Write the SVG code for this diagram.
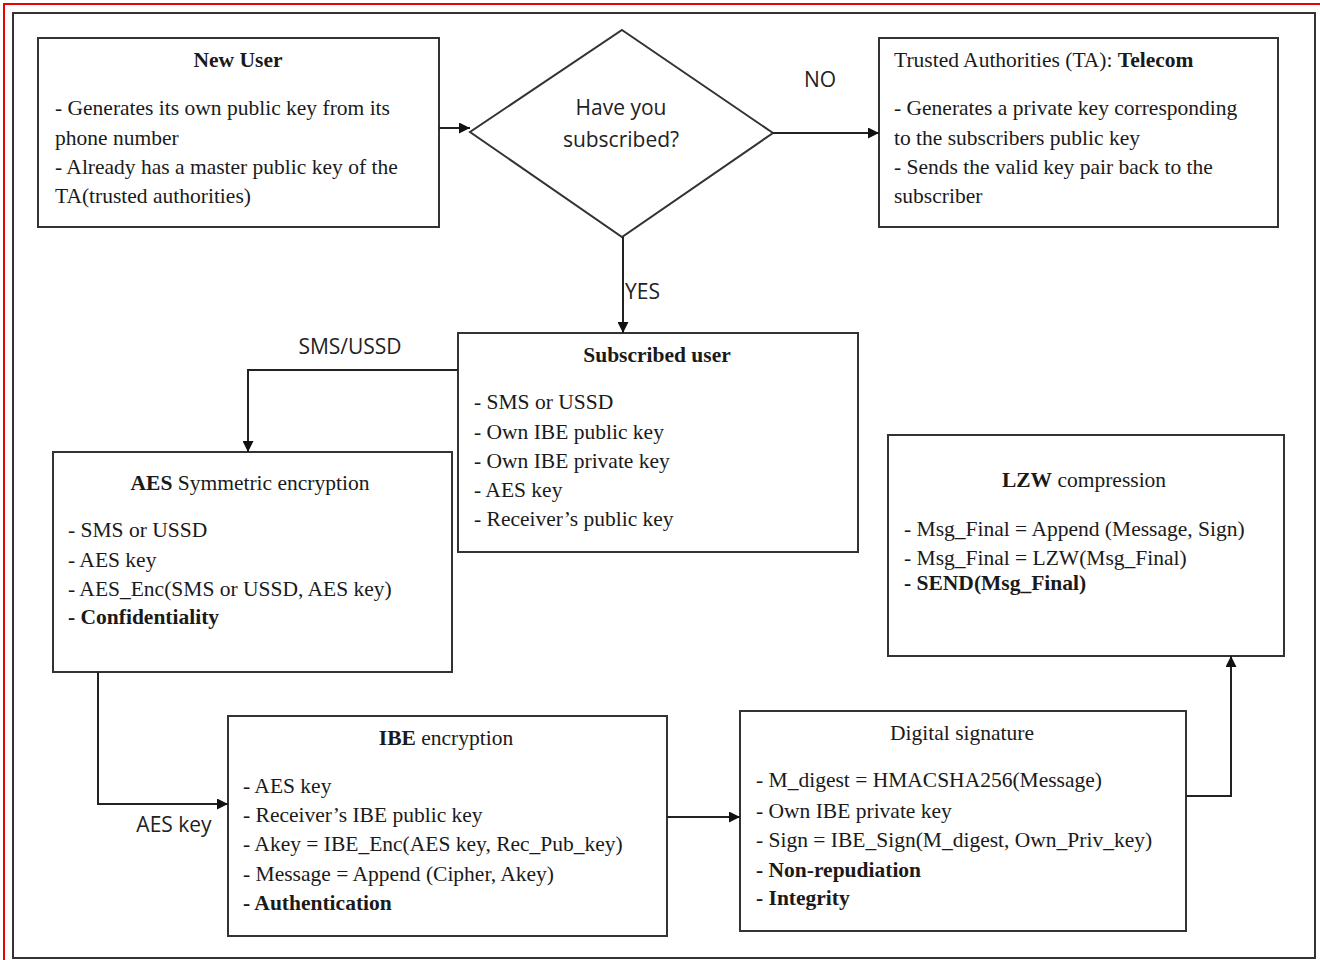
<svg xmlns="http://www.w3.org/2000/svg" width="1320" height="960" viewBox="0 0 1320 960">
<defs>
<marker id="arr" viewBox="0 0 10 10" refX="10" refY="5" markerWidth="11" markerHeight="11" markerUnits="userSpaceOnUse" orient="auto">
<path d="M0,0 L10,5 L0,10 z" fill="#111"/>
</marker>
<style>
.box{fill:#fff;stroke:#333;stroke-width:2}
.t{font-family:"Liberation Serif","Times New Roman",serif;font-size:21.5px;fill:#1a1a1a}
.b{font-weight:bold}
.c{text-anchor:middle}
.s{font-family:"Open Sans","Liberation Sans",sans-serif;font-size:21px;fill:#222}
.ln{fill:none;stroke:#222;stroke-width:2;marker-end:url(#arr)}
</style>
</defs>
<rect width="1320" height="960" fill="#fff"/>
<path d="M4,970 L4,4 L1330,4" fill="none" stroke="#e00" stroke-width="2"/>
<rect x="13" y="13" width="1302" height="945" fill="none" stroke="#333" stroke-width="2"/>

<g id="new-user">
<rect class="box" x="38" y="38" width="401" height="189"/>
<text class="t b c" x="238" y="67">New User</text>
<text class="t" x="55" y="115">- Generates its own public key from its</text>
<text class="t" x="55" y="145">phone number</text>
<text class="t" x="55" y="174">- Already has a master public key of the</text>
<text class="t" x="55" y="203">TA(trusted authorities)</text>
</g>

<g id="decision">
<polygon points="622,30 773,133 622,237 470,132" fill="#fff" stroke="#333" stroke-width="2"/>
<text class="s c" x="621" y="115">Have you</text>
<text class="s c" x="621" y="147">subscribed?</text>
</g>

<g id="ta">
<rect class="box" x="879" y="38" width="399" height="189"/>
<text class="t" x="894" y="67">Trusted Authorities (TA): <tspan class="b">Telecom</tspan></text>
<text class="t" x="894" y="115">- Generates a private key corresponding</text>
<text class="t" x="894" y="145">to the subscribers public key</text>
<text class="t" x="894" y="174">- Sends the valid key pair back to the</text>
<text class="t" x="894" y="203">subscriber</text>
</g>

<g id="subscribed-user">
<rect class="box" x="458" y="333" width="400" height="219"/>
<text class="t b c" x="657" y="362">Subscribed user</text>
<text class="t" x="474" y="409">- SMS or USSD</text>
<text class="t" x="474" y="439">- Own IBE public key</text>
<text class="t" x="474" y="468">- Own IBE private key</text>
<text class="t" x="474" y="497">- AES key</text>
<text class="t" x="474" y="526">- Receiver’s public key</text>
</g>

<g id="aes">
<rect class="box" x="53" y="452" width="399" height="220"/>
<text class="t c" x="250" y="490"><tspan class="b">AES</tspan> Symmetric encryption</text>
<text class="t" x="68" y="537">- SMS or USSD</text>
<text class="t" x="68" y="567">- AES key</text>
<text class="t" x="68" y="596">- AES_Enc(SMS or USSD, AES key)</text>
<text class="t b" x="68" y="624">- Confidentiality</text>
</g>

<g id="lzw">
<rect class="box" x="888" y="435" width="396" height="221"/>
<text class="t c" x="1084" y="487"><tspan class="b">LZW</tspan> compression</text>
<text class="t" x="904" y="536">- Msg_Final = Append (Message, Sign)</text>
<text class="t" x="904" y="565">- Msg_Final = LZW(Msg_Final)</text>
<text class="t b" x="904" y="590">- SEND(Msg_Final)</text>
</g>

<g id="ibe">
<rect class="box" x="228" y="716" width="439" height="220"/>
<text class="t c" x="446" y="745"><tspan class="b">IBE</tspan> encryption</text>
<text class="t" x="243" y="793">- AES key</text>
<text class="t" x="243" y="822">- Receiver’s IBE public key</text>
<text class="t" x="243" y="851">- Akey = IBE_Enc(AES key, Rec_Pub_key)</text>
<text class="t" x="243" y="881">- Message = Append (Cipher, Akey)</text>
<text class="t b" x="243" y="910">- Authentication</text>
</g>

<g id="digital-signature">
<rect class="box" x="740" y="711" width="446" height="220"/>
<text class="t c" x="962" y="740">Digital signature</text>
<text class="t" x="756" y="787">- M_digest = HMACSHA256(Message)</text>
<text class="t" x="756" y="818">- Own IBE private key</text>
<text class="t" x="756" y="847">- Sign = IBE_Sign(M_digest, Own_Priv_key)</text>
<text class="t b" x="756" y="877">- Non-repudiation</text>
<text class="t b" x="756" y="905">- Integrity</text>
</g>

<g id="connectors">
<path class="ln" d="M439,128 L470,128"/>
<path class="ln" d="M773,133 L879,133"/>
<path class="ln" d="M623,237 L623,333"/>
<path class="ln" d="M458,370 L248,370 L248,452"/>
<path class="ln" d="M98,672 L98,804 L228,804"/>
<path class="ln" d="M667,817 L740,817"/>
<path class="ln" d="M1186,796 L1231,796 L1231,656"/>
<text class="s c" x="820" y="87">NO</text>
<text class="s" x="625" y="299">YES</text>
<text class="s c" x="350" y="354">SMS/USSD</text>
<text class="s c" x="174" y="832">AES key</text>
</g>
</svg>
